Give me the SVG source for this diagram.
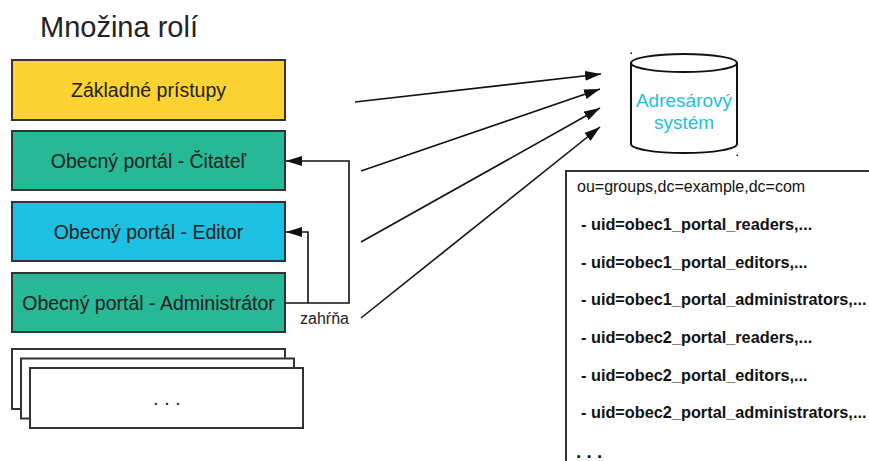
<svg xmlns="http://www.w3.org/2000/svg" width="869" height="461" viewBox="0 0 869 461">
<style>
text{font-family:"Liberation Sans",Arial,sans-serif;fill:#222}
.box{stroke:#333;stroke-width:2}
.lbl{font-size:19.5px;text-anchor:middle}
.conn{fill:none;stroke:#111;stroke-width:1.6}
.ldap{font-size:16.3px;font-weight:bold;fill:#111}
</style>
<defs>
<marker id="ah" viewBox="0 0 16 10" refX="16" refY="5" markerWidth="16" markerHeight="10" markerUnits="userSpaceOnUse" orient="auto">
<path d="M0,0 L16,5 L0,10 Z" fill="#111"/>
</marker>
</defs>
<rect width="869" height="461" fill="#fff"/>
<text x="40" y="37" style="font-size:29px">Množina rolí</text>

<g id="zakladne">
<rect class="box" x="12" y="60" width="273" height="60" fill="#fdd233"/>
<text class="lbl" x="148.5" y="97">Základné prístupy</text>
</g>
<g id="citatel">
<rect class="box" x="12" y="131" width="273" height="59" fill="#27b895"/>
<text class="lbl" x="148.5" y="168">Obecný portál - Čitateľ</text>
</g>
<g id="editor">
<rect class="box" x="12" y="202" width="273" height="59" fill="#1dc0e0"/>
<text class="lbl" x="148.5" y="239">Obecný portál - Editor</text>
</g>
<g id="admin">
<rect class="box" x="12" y="273" width="273" height="59" fill="#27b895"/>
<text class="lbl" x="148.5" y="310">Obecný portál - Administrátor</text>
</g>
<g id="dalsie">
<rect class="box" x="12" y="349" width="273" height="60" fill="#fff"/>
<rect class="box" x="21" y="358.5" width="273" height="60" fill="#fff"/>
<rect class="box" x="30" y="368" width="273" height="60" fill="#fff"/>
<text x="167" y="405" style="font-size:20px;text-anchor:middle">. . .</text>
</g>

<g id="adresar">
<path d="M631,63 L631,144 A53,9 0 0 0 737,144 L737,63" fill="#fff" stroke="#111" stroke-width="2"/>
<ellipse cx="684" cy="63" rx="53" ry="9" fill="#fff" stroke="#111" stroke-width="2"/>
<rect x="630.5" y="52.5" width="1.5" height="1.5" fill="#111"/>
<rect x="736.5" y="154.5" width="1.5" height="1.5" fill="#111"/>
<text x="684" y="107" style="font-size:19px;text-anchor:middle;fill:#1dbfe0">Adresárový</text>
<text x="684" y="129" style="font-size:19px;text-anchor:middle;fill:#1dbfe0">systém</text>
</g>

<g id="ldap">
<path d="M566,461 L566,171 L869,171" fill="none" stroke="#333" stroke-width="2"/>
<text x="577" y="192" style="font-size:16px;fill:#111">ou=groups,dc=example,dc=com</text>
<text class="ldap" x="581" y="230">- uid=obec1_portal_readers,...</text>
<text class="ldap" x="581" y="268">- uid=obec1_portal_editors,...</text>
<text class="ldap" x="581" y="305">- uid=obec1_portal_administrators,...</text>
<text class="ldap" x="581" y="343">- uid=obec2_portal_readers,...</text>
<text class="ldap" x="581" y="381">- uid=obec2_portal_editors,...</text>
<text class="ldap" x="581" y="418">- uid=obec2_portal_administrators,...</text>
<text x="576" y="458" style="font-size:19px;font-weight:bold;fill:#111">. . .</text>
</g>

<g id="connectors">
<line class="conn" x1="355" y1="102" x2="601" y2="74" marker-end="url(#ah)"/>
<line class="conn" x1="361" y1="171" x2="600" y2="89" marker-end="url(#ah)"/>
<line class="conn" x1="361" y1="242" x2="600" y2="108" marker-end="url(#ah)"/>
<line class="conn" x1="361" y1="318" x2="600" y2="127" marker-end="url(#ah)"/>
<polyline class="conn" points="285,303 349,303 349,161 286,161" marker-end="url(#ah)"/>
<polyline class="conn" points="308,303 308,232 286,232" marker-end="url(#ah)"/>
<text x="300" y="324" style="font-size:16px">zahŕňa</text>
</g>
</svg>
